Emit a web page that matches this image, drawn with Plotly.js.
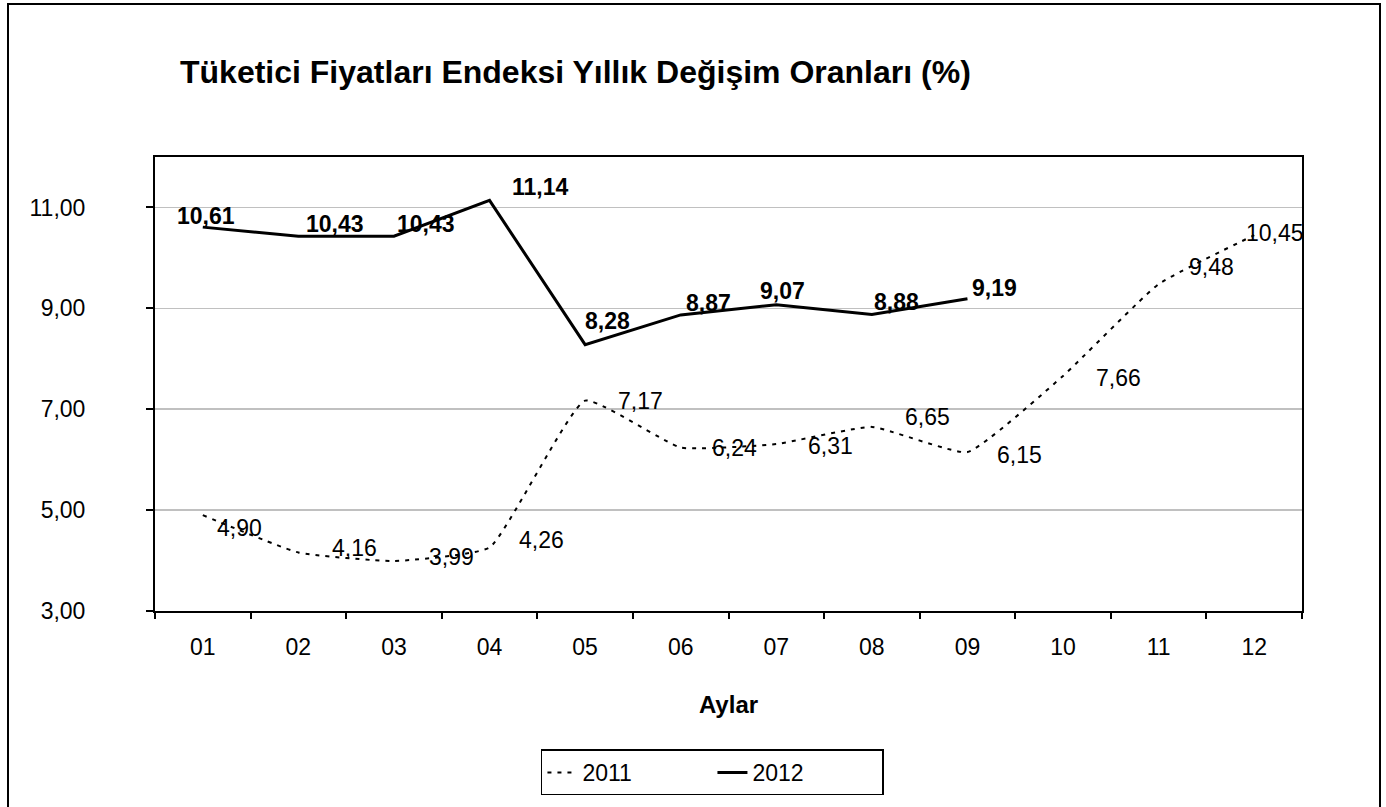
<!DOCTYPE html>
<html>
<head>
<meta charset="utf-8">
<script src="https://cdn.plot.ly/plotly-3.0.1.min.js"></script>
<style>
  html, body { margin: 0; padding: 0; background: #ffffff; overflow: hidden; }
  #frame { position: absolute; left: 7px; top: 3px; width: 1374px; height: 830px; border: 2px solid #000; box-sizing: border-box; pointer-events: none; z-index: 2; }
  #chart { position: absolute; left: 0; top: 0; width: 1386px; height: 807px; }
</style>
</head>
<body>
<div id="chart"></div>
<div id="frame"></div>
<script>
// ---- data ----
const months = ['01','02','03','04','05','06','07','08','09','10','11','12'];
const months2012 = ['01','02','03','04','05','06','07','08','09'];
const values2011 = [4.90, 4.16, 3.99, 4.26, 7.17, 6.24, 6.31, 6.65, 6.15, 7.66, 9.48, 10.45];
const values2012 = [10.61, 10.43, 10.43, 11.14, 8.28, 8.87, 9.07, 8.88, 9.19];
const seriesNames = ['2011', '2012'];
const chartTitle = 'Tüketici Fiyatları Endeksi Yıllık Değişim Oranları (%)';
const xTitle = 'Aylar';

// label offsets (style only, in px)
const shift2011x = [37, 56, 58, 52, 55, 54, 54, 56, 52, 55, 53, 21];
const shift2011y = [-13, 4, 4, 7, 0, 0, -2, 10, -3, -2, 17, 2];
const shift2012x = [3, 37, 32, 50, 22, 28, 6, 25, 27];
const shift2012y = [11, 12, 12, 13, 24, 12, 14, 12, 11];

const fmt = v => v.toFixed(2).replace('.', ',');

const traces = [
  {
    x: months, y: values2011, name: seriesNames[0], type: 'scatter', mode: 'lines',
    line: { color: '#000', width: 2, dash: '4px,6px', shape: 'spline', smoothing: 0.4 },
    hoverinfo: 'skip'
  },
  {
    x: months2012, y: values2012, name: seriesNames[1], type: 'scatter', mode: 'lines',
    line: { color: '#000', width: 3 },
    hoverinfo: 'skip'
  }
];

// category axis: annotations are placed by category index (month labels look numeric)
const annotations = [];
values2011.forEach((v, i) => annotations.push({
  x: months.indexOf(months[i]), y: v, xref: 'x', yref: 'y', text: fmt(v), showarrow: false,
  xanchor: 'center', yanchor: 'middle', xshift: shift2011x[i], yshift: shift2011y[i],
  font: { family: 'Liberation Sans, Arial, sans-serif', size: 23, color: '#000' }
}));
values2012.forEach((v, i) => annotations.push({
  x: months.indexOf(months2012[i]), y: v, xref: 'x', yref: 'y', text: '<b>' + fmt(v) + '</b>', showarrow: false,
  xanchor: 'center', yanchor: 'middle', xshift: shift2012x[i], yshift: shift2012y[i],
  font: { family: 'Liberation Sans, Arial, sans-serif', size: 23, color: '#000' }
}));

const layout = {
  width: 1386, height: 807,
  margin: { l: 155, r: 84, t: 157, b: 192, pad: 0 },
  paper_bgcolor: 'rgba(0,0,0,0)', plot_bgcolor: '#fff',
  separators: ',.',
  font: { family: 'Liberation Sans, Arial, sans-serif', color: '#000' },
  title: {
    text: '<b>' + chartTitle + '</b>',
    xref: 'container', yref: 'container', x: 180 / 1386, xanchor: 'left',
    y: 1 - 72 / 807, yanchor: 'middle',
    font: { family: 'Liberation Sans, Arial, sans-serif', size: 32, color: '#000' }
  },
  xaxis: {
    type: 'category', range: [-0.5, 11.5], tickson: 'boundaries',
    ticks: 'outside', ticklen: 6, tickwidth: 2, tickcolor: '#000',
    showline: true, linewidth: 2, linecolor: '#000', mirror: true,
    showgrid: false, zeroline: false,
    tickfont: { size: 23, color: '#000' }, ticklabelstandoff: 14,
    title: { text: '<b>' + xTitle + '</b>', font: { size: 24, color: '#000' }, standoff: 38 }
  },
  yaxis: {
    range: [3, 12], tick0: 3, dtick: 2, tickformat: '.2f',
    ticks: 'outside', ticklen: 7, tickwidth: 2, tickcolor: '#000',
    showline: true, linewidth: 2, linecolor: '#000', mirror: true,
    showgrid: true, gridcolor: '#c0c0c0', gridwidth: 1.5, zeroline: false,
    tickfont: { size: 23, color: '#000' },
    ticklabelstandoff: 56
  },
  showlegend: true,
  legend: {
    orientation: 'h', x: 0.486, xanchor: 'center', y: -0.305, yanchor: 'top',
    bordercolor: '#000', borderwidth: 1.5, bgcolor: '#fff',
    font: { size: 23, color: '#000' }, entrywidth: 125, itemwidth: 30
  },
  annotations: annotations
};

Plotly.newPlot('chart', traces, layout, { displayModeBar: false, staticPlot: true });
</script>
</body>
</html>
